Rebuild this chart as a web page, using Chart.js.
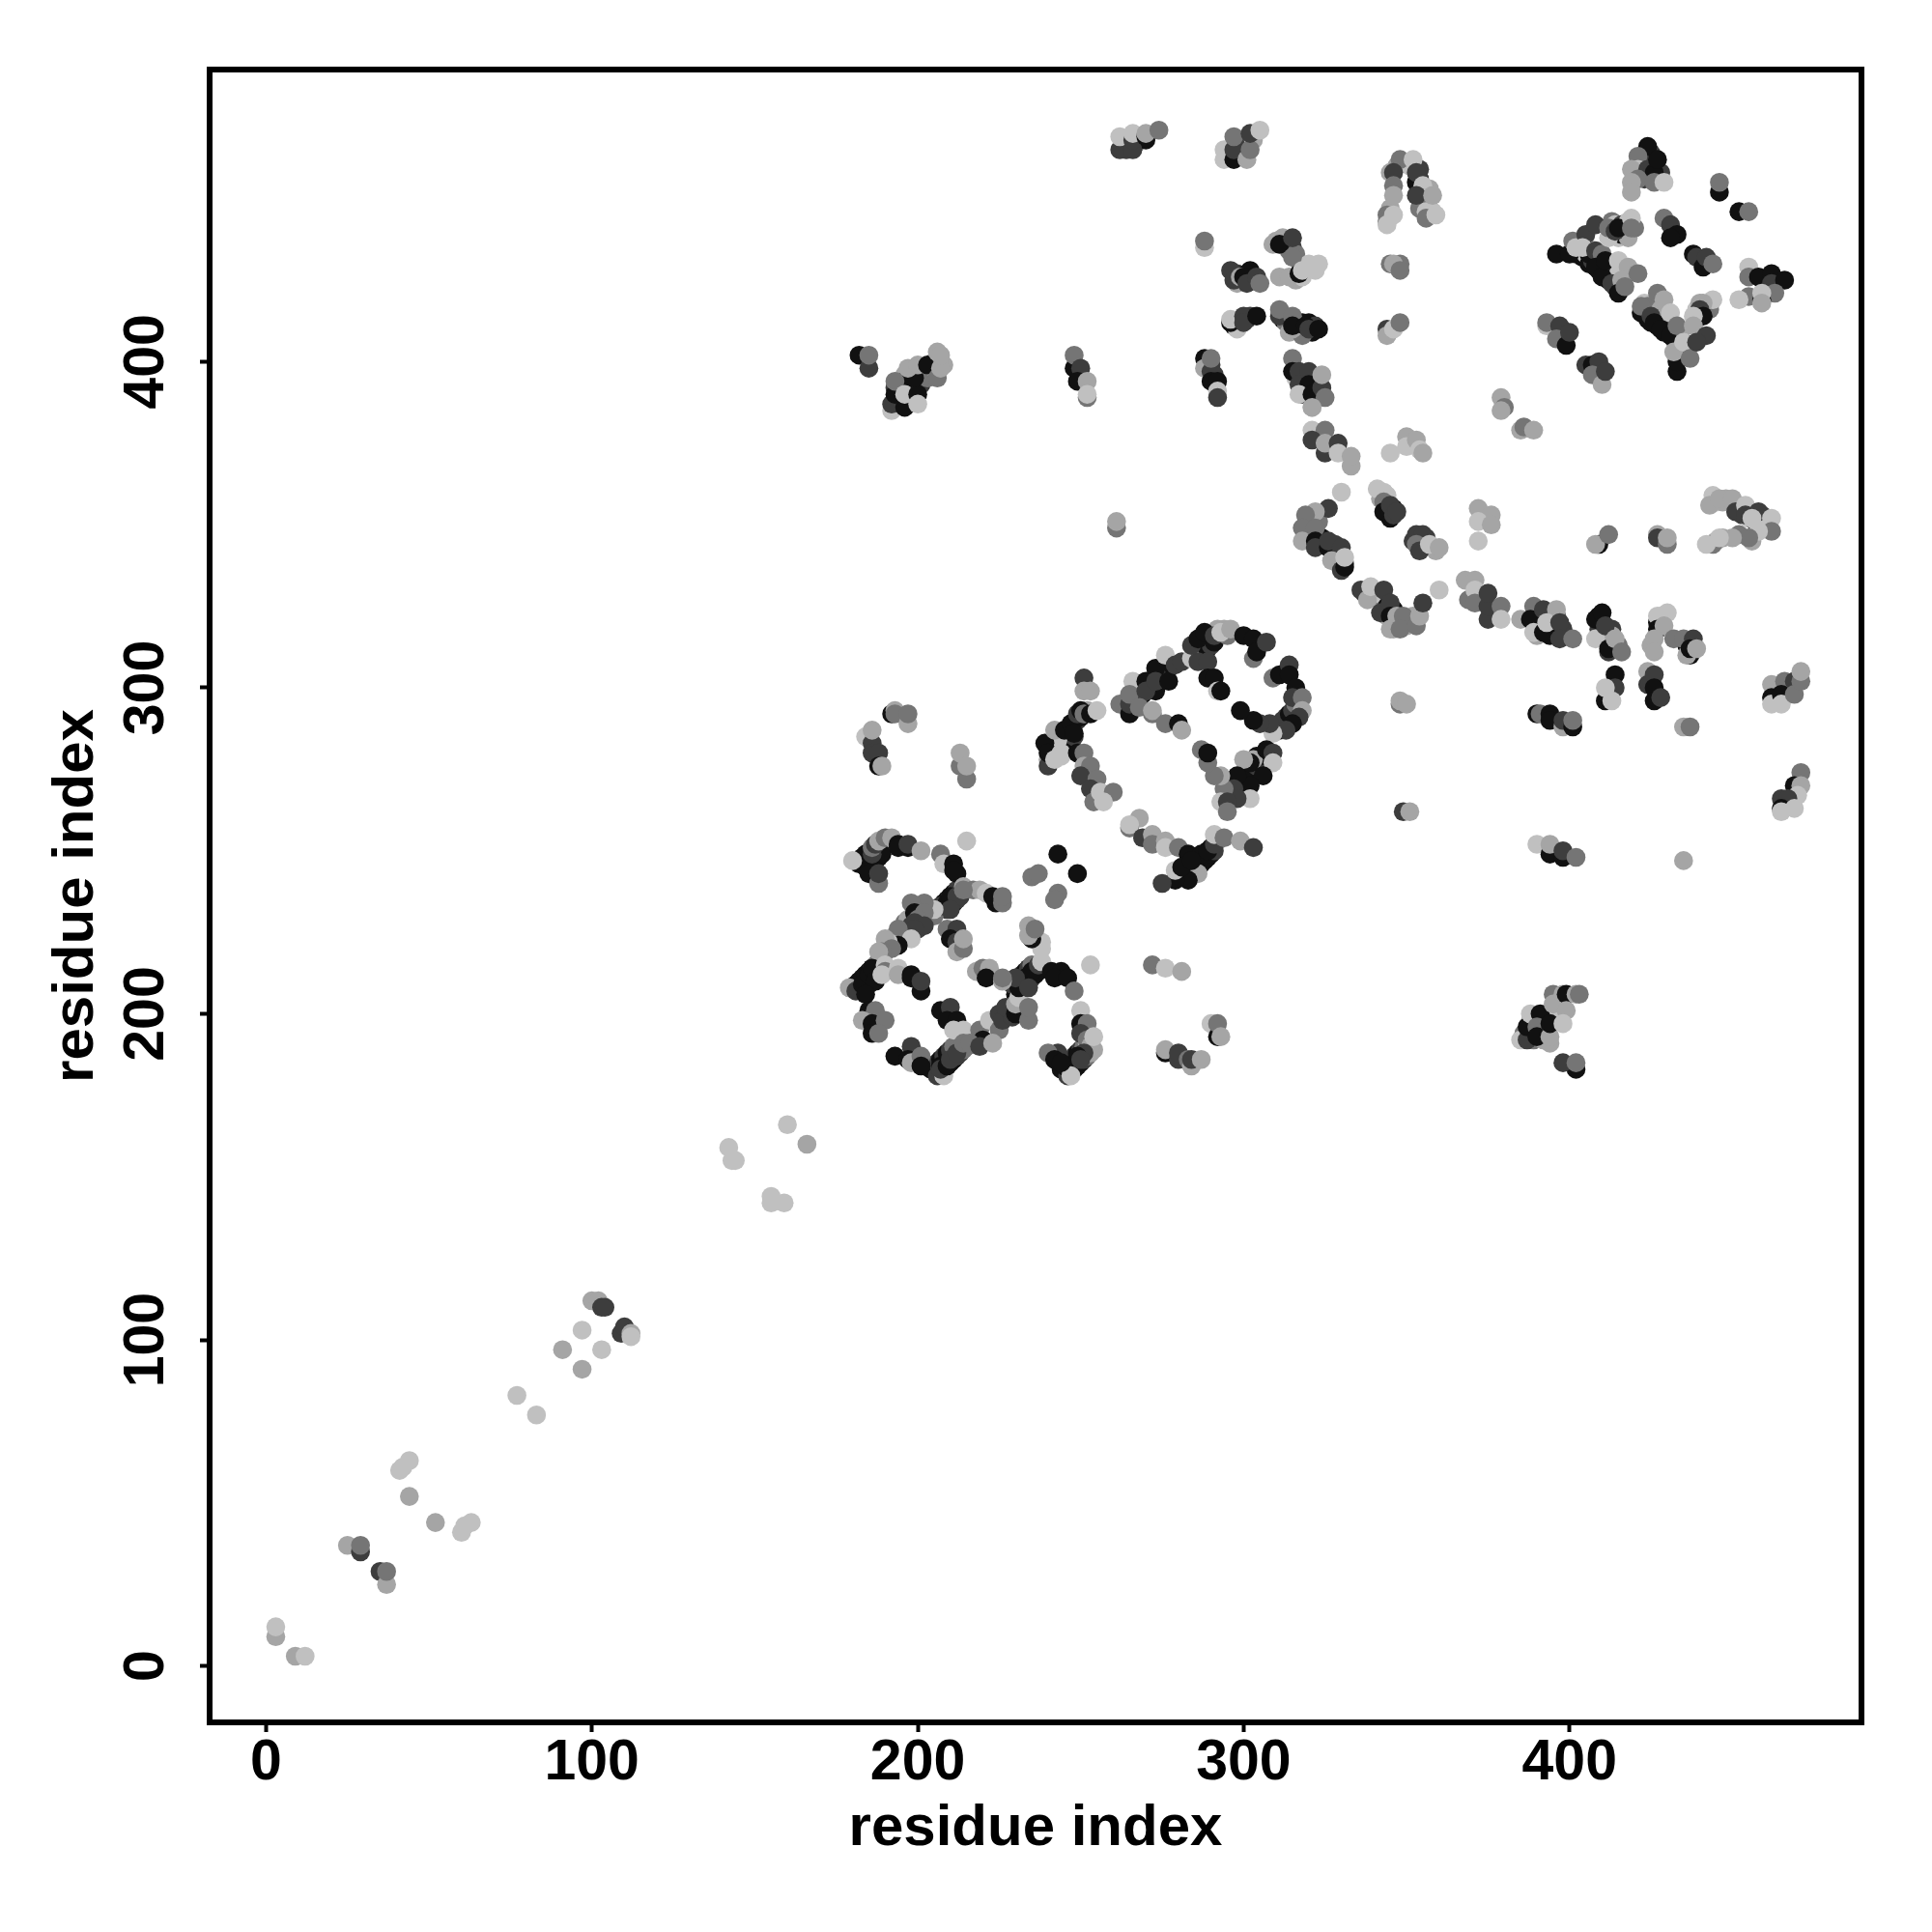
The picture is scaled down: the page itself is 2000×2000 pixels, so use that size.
<!DOCTYPE html>
<html>
<head>
<meta charset="utf-8">
<style>
    body { margin: 0; background: #ffffff; }
    #contact-map { display: block; }
</style>
<script src="https://cdn.jsdelivr.net/npm/chart.js@4"></script>
</head>
<body>
<div style="width:2000px;height:2000px"><canvas id="contact-map"></canvas></div>
<script>
// each contact is [residue i, residue j, strength bin 0 (strongest) .. 4 (weakest)]
const tickValues = [0, 100, 200, 300, 400];
const axisLabel = "residue index";

const diagonal = [
    [3,9,3],[3,12,4],[9,3,3],[12,3,4],[25,37,3],[29,35,1],[29,37,2],[35,29,1],[37,25,3],[37,29,2],
    [41,60,4],[42,61,4],[44,63,4],[44,52,3],[52,44,3],[60,41,4],[61,43,4],[63,44,4],[77,83,4],[83,77,4],
    [97,103,4],[91,97,3],[97,91,3],[103,97,4],[100,112,3],[102,112,3],[103,110,1],[104,110,1],
    [109,102,1],[110,104,1],[112,102,3],[112,101,4],
    [142,159,4],[143,155,4],[144,155,4],[160,166,4],[166,160,3],[155,144,4],[155,142,4],[159,142,4],
];

// packed strands, drawn first so the single contacts sit on top
const strandsA = [
    [180,208,1],[181,209,0],[182,210,0],[183,211,0],[184,212,0],[185,213,0],[186,214,1],[187,215,3],[188,216,2],
    [183,207,0],[184,208,0],[185,209,0],[186,210,1],[187,211,0],[188,212,0],
    [183,246,0],[184,247,0],[185,248,1],[186,249,0],[187,250,1],[188,251,0],[189,252,1],[190,253,3],
    [185,245,0],[186,246,0],[187,247,1],[188,248,0],[189,249,0],
    [207,233,1],[208,234,0],[209,235,0],[210,236,1],[211,237,0],[212,238,1],[209,232,1],[210,233,0],[211,234,0],[212,235,1],[213,236,1],
    [204,183,0],[205,184,0],[206,185,1],[207,186,0],[208,187,1],[209,188,0],[210,189,1],[211,190,2],
    [206,181,1],[207,182,1],[208,183,0],[209,184,0],[210,185,0],[211,186,0],[212,187,1],[213,188,1],[214,189,2],[215,190,2],
    [230,206,0],[231,207,0],[232,208,1],[233,209,0],[234,210,0],[235,211,1],[236,212,0],[237,213,0],
    [229,209,1],[230,210,0],[231,211,0],[232,212,1],[233,213,0],[234,214,1],[235,215,2],
    [244,183,0],[245,184,0],[246,185,1],[247,186,0],[248,187,1],[249,188,0],[250,189,1],[251,190,2],[252,191,3],[253,192,3],
    [246,181,1],[247,182,1],[248,183,0],[249,184,0],[250,185,0],[251,186,1],[252,187,2],[253,188,3],[254,189,3],
    [190,219,1],[191,220,2],[193,224,3],[195,224,1],[196,228,2],[197,229,3],[200,226,1],[201,228,2],[203,230,3],
    [196,225,1],[198,227,1],[201,230,0],[204,231,3],[205,230,2],
];

const strandsB = [
    [244,285,0],[245,286,0],[246,287,1],[247,288,0],[248,289,0],[249,290,1],[250,291,0],[251,292,1],[252,293,3],
    [246,284,0],[247,285,0],[248,285,1],[240,282,0],[241,281,4],[242,283,0],[243,281,0],[244,279,4],[242,279,1],[243,284,4],[240,278,3],
    [281,242,0],[282,243,0],[283,244,4],[284,245,0],[285,246,0],[286,247,0],[287,248,1],[288,249,0],[289,250,1],[290,251,0],[291,252,1],[292,253,4],
    [284,243,1],[285,244,4],[286,245,0],[287,246,0],[288,247,0],[289,248,0],[290,249,0],[291,250,1],
    [285,311,1],[286,312,0],[287,313,1],[288,314,0],[289,315,1],[290,316,4],[291,317,1],[292,318,3],
    [287,310,0],[288,311,1],[289,312,0],[290,313,1],[291,314,0],[294,318,3],[295,316,2],
    [268,297,0],[269,298,0],[270,299,1],[271,300,0],[272,301,0],[274,303,1],[275,304,0],[276,305,0],[277,306,1],[278,307,0],
    [311,287,0],[312,288,0],[313,289,1],[314,290,0],[315,291,1],[316,292,3],[317,293,2],
    [310,288,1],[311,289,0],[312,290,1],[313,291,1],[314,292,0],[315,293,1],[316,295,2],
    [298,270,1],[299,271,0],[300,272,0],[301,273,1],[302,274,0],[303,275,0],[304,276,1],[305,277,0],[306,278,1],[307,279,0],[304,279,0],[303,278,3],
];

const strandsC = [
    [320,347,3],[319,350,2],[321,351,2],[323,351,2],[324,346,0],[325,344,0],[328,344,1],[330,338,3],[329,340,4],[330,339,2],[331,338,1],
    [342,358,3],[343,360,4],[344,355,1],[345,352,0],[346,355,0],
    [352,345,1],[354,345,1],[356,346,1],[355,343,2],[358,343,3],[359,342,3],
    [337,329,1],[340,328,3],[339,328,2],[341,329,4],[344,325,0],[346,324,0],[344,322,3],[346,318,3],[347,319,2],[350,319,3],[351,320,2],[352,322,3],
    [389,322,0],[390,320,0],[391,319,4],[391,322,1],[393,322,0],[394,319,0],[395,318,4],[396,322,1],[396,318,1],[398,318,1],[390,316,3],[394,316,0],
    [409,322,0],[410,320,0],[409,318,1],[411,317,0],[412,315,0],[413,318,1],[414,313,0],[413,316,3],[412,311,1],[415,313,2],
    [427,320,0],[425,313,3],[427,322,4],[437,310,0],[436,313,0],[438,313,1],
    [445,357,4],[447,357,3],[448,358,3],[452,356,3],[453,353,1],[455,352,4],[457,351,1],[459,353,1],[452,347,2],[456,345,3],[460,349,4],[447,346,3],[445,345,3],
    [388,194,0],[389,195,1],[391,197,0],[392,198,4],[392,194,0],[393,199,0],[395,199,0],[396,201,0],[393,196,3],[397,203,0],[396,205,1],[398,202,3],[395,201,4],
    [388,198,3],[386,194,2],[389,192,2],[392,192,3],[394,191,3],
];

const strandsE = [
    [264,465,1],[263,466,1],[265,467,2],[268,469,3],[267,467,2],[270,468,0],
    [296,464,0],[299,468,3],[300,467,1],[303,468,3],
    [347,460,3],[345,458,3],[354,459,1],[354,456,1],[357,453,3],[355,449,3],[357,447,3],[354,447,2],[356,446,4],[358,446,4],[345,447,3],[344,445,2],[351,460,4],[353,455,0],
    [309,436,3],[313,437,3],[314,434,2],[315,435,1],[316,433,2],[316,425,3],[319,429,4],[320,430,4],[318,426,4],
    [298,427,1],[298,424,3],[302,428,0],[301,427,0],[303,425,1],
    [297,411,0],[299,412,3],[301,413,1],[302,414,1],[298,410,4],
    [312,413,0],[313,412,2],[314,412,2],[316,412,1],[317,410,1],[318,412,0],[320,412,0],[321,409,0],[322,411,1],[314,409,3],[318,408,2],
    [316,395,4],[318,394,0],[319,396,1],[322,395,1],[321,392,4],[323,394,1],[323,391,0],[318,390,1],
    [289,399,1],[291,396,1],[290,399,1],
];

const strandsF = [
    [401,435,4],[402,433,0],[403,434,1],[404,432,0],[405,433,4],[406,430,0],[407,431,1],[408,431,0],[409,430,2],[409,428,0],[410,429,1],
    [411,428,0],[412,427,2],[412,425,0],[413,428,1],[414,426,0],[414,423,1],[416,423,3],[415,427,4],[416,428,4],[403,436,2],[405,436,4],
    [423,415,0],[424,413,0],[425,415,1],[425,412,0],[426,414,0],[427,411,0],[428,413,1],[429,409,0],[429,411,0],[430,412,3],[431,410,1],
    [432,407,1],[433,406,0],[434,408,3],[435,404,4],[436,403,3],[433,404,1],[434,403,1],[432,409,4],[423,418,4],[424,417,2],[428,416,3],
    [413,443,2],[414,442,4],[416,442,1],[417,440,1],[418,443,4],[415,438,4],[416,439,0],[418,438,3],[420,441,2],
    [439,416,4],[440,418,3],[442,416,3],[443,418,4],[443,416,2],[439,413,3],
    [422,461,1],[423,463,4],[425,464,1],[428,458,1],[423,456,1],
    [194,388,0],[195,392,0],[197,392,0],[198,389,0],[198,396,3],[199,392,0],[201,393,1],[202,396,3],[204,397,1],[203,395,2],
    [205,400,3],[205,398,3],[208,399,3],[194,392,4],[196,396,3],[193,392,1],
];

const clusterA = [
    [182,246,0],[183,248,0],[184,245,0],[185,243,0],[184,249,0],[180,247,4],[186,249,1],[186,251,2],[187,252,1],
    [188,253,3],[190,254,2],[192,254,3],[194,252,0],[197,251,0],[194,251,0],[197,252,1],[201,250,3],[188,240,2],[188,243,1],
    [215,253,4],[207,249,2],[208,246,4],[211,246,0],[212,243,0],[211,244,0],[214,239,3],[217,238,2],[219,238,3],[221,237,4],
    [224,234,0],[223,236,0],[226,234,2],[226,236,2],
    [207,233,1],[209,234,0],[210,236,0],[212,236,1],[214,238,2],[210,232,1],
    [205,232,4],[202,234,2],[198,234,2],[199,231,0],[202,231,2],[200,229,2],[199,228,1],[202,227,1],[199,226,1],[194,226,2],
    [198,223,4],[194,221,0],[191,222,4],[190,223,3],[192,220,2],[189,219,2],[188,219,3],
    [209,226,2],[212,226,1],[210,223,0],[212,222,1],[212,219,3],[214,220,2],[214,223,3],
    [179,208,3],[181,207,1],[183,209,0],[185,212,0],[186,214,0],[187,210,0],[184,206,0],[190,215,4],[190,213,2],[189,212,4],
    [194,214,4],[194,212,3],[198,212,0],[198,211,0],[201,207,0],[201,210,1],
    [185,201,0],[187,201,2],[183,198,3],[186,197,0],[190,198,2],[186,194,0],[188,194,2],
    [207,201,0],[210,202,1],[209,198,0],[212,198,0],[211,195,4],[214,195,4],[219,195,2],[220,192,0],[222,198,4],[225,195,2],
    [225,200,1],[226,198,1],[229,199,1],[227,202,1],[230,200,0],[230,203,3],[231,205,4],[234,198,2],[234,202,2],
    [231,208,0],[233,211,0],[235,213,0],[230,211,1],[234,208,1],[237,215,1],[238,216,4],[238,220,4],[238,222,4],
    [235,223,0],[234,224,3],[234,227,3],[236,226,2],
    [241,213,0],[244,213,0],[242,211,0],[246,211,0],[248,207,2],[253,215,4],
    [243,249,0],[249,243,0],[235,242,2],[237,243,2],[243,237,2],[242,235,2],
    [250,201,4],[250,197,0],[252,197,2],[250,194,1],[252,192,2],[253,190,3],[254,193,4],[251,188,1],[249,187,0],[247,184,0],[245,184,0],
    [247,181,4],[250,186,1],[243,188,1],[240,188,2],[242,186,0],[244,185,0],
    [218,213,3],[220,214,2],[222,214,3],[221,211,0],[226,210,3],[226,211,2],
    [193,187,4],[193,187,0],[198,190,1],[197,186,0],[198,185,3],[201,187,2],[201,184,0],
    [207,184,0],[208,181,4],[207,183,1],[209,184,0],[210,186,1],[212,188,1],[214,191,2],[216,191,2],[219,190,1],[223,191,3],
];

const clusterB = [
    [240,276,1],[239,283,0],[240,280,0],[242,287,3],[242,278,4],[244,280,4],[245,287,0],[247,289,0],[248,286,0],[249,292,1],
    [250,293,0],[251,292,2],[253,292,0],[255,293,4],[249,280,0],[251,280,2],[251,276,3],[253,276,2],[250,273,1],[255,272,2],
    [253,269,1],[254,265,2],[256,268,4],[260,268,2],[257,265,4],[251,303,1],[251,299,3],[253,299,3],
    [262,295,2],[265,292,0],[265,295,1],[266,302,4],[265,298,2],[270,302,0],[273,306,0],[273,299,0],[270,299,1],[273,302,1],[277,302,0],
    [268,294,2],[272,292,2],[272,293,3],[276,289,2],[280,289,0],[281,287,3],
    [276,310,4],[279,307,1],[281,308,1],[284,309,4],[286,308,1],[289,308,1],[284,313,1],[286,315,0],[288,317,0],[291,316,1],
    [293,317,4],[296,318,3],[300,316,0],[303,315,0],[303,309,2],[304,311,0],[307,314,1],[289,303,0],[291,303,0],[292,299,4],[293,299,0],
    [309,303,2],[311,304,0],[314,307,1],[314,304,0],[316,300,0],[315,297,1],[318,297,2],[318,293,3],[317,291,1],[315,289,0],
    [313,287,1],[309,286,4],[308,289,1],[305,289,1],[303,290,0],[299,293,0],
    [307,281,0],[309,280,1],[309,277,4],[302,277,0],[300,278,3],[306,273,0],[302,270,0],[298,273,0],[297,269,1],[302,266,4],
    [298,266,1],[294,269,2],[293,265,4],[295,265,1],[295,262,2],[293,273,3],[291,273,2],[289,277,2],[287,281,2],[289,280,0],
    [268,260,3],[265,257,2],[265,258,4],[269,254,1],[272,255,3],[272,252,2],[276,253,3],[276,251,4],[280,251,2],
    [283,249,0],[287,249,0],[289,250,0],[291,252,1],[291,255,4],[294,254,2],[299,253,3],[303,251,1],
    [286,243,3],[283,241,0],[279,241,0],[275,240,1],[279,244,4],[281,245,0],[284,247,0],
    [272,215,2],[276,214,4],[281,213,3],
    [276,188,0],[276,189,3],[280,186,1],[280,188,1],[283,186,2],[284,184,3],[284,186,1],[287,186,3],
    [290,197,4],[292,193,0],[292,197,2],[293,193,3],
];

const clusterC = [
    [321,386,4],[321,379,4],[325,379,2],[321,376,1],[325,372,1],[325,375,3],[329,375,1],[329,372,4],[333,368,3],[333,371,3],
    [345,372,4],[350,377,3],[350,374,4],[353,376,3],[354,373,4],[355,372,3],
    [379,389,3],[380,386,2],[379,385,3],[385,379,3],[386,380,2],[389,379,3],
    [330,360,4],[326,355,1],[322,354,3],[319,353,2],[318,349,2],[322,349,2],[318,345,3],
    [322,345,0],[322,343,1],[326,343,0],[326,345,1],[330,343,1],[327,339,3],[330,336,1],[331,337,0],[331,340,4],
    [341,361,4],[344,359,4],[343,357,2],[343,354,0],[345,356,1],[346,353,1],[347,354,1],
    [353,347,1],[355,347,1],[353,344,2],[354,342,1],[357,344,4],[360,343,3],
    [372,355,3],[376,353,3],[372,351,4],[376,350,3],[372,345,4],
    [336,330,1],[338,327,3],[339,331,4],[343,330,1],[342,323,1],[345,326,1],[345,322,0],[347,322,3],[345,318,3],
    [349,322,2],[348,318,2],[353,319,2],[354,322,3],[355,326,1],[360,330,4],
    [368,333,3],[371,333,3],[369,327,2],[371,330,4],[371,326,2],[375,321,1],[375,325,1],[375,329,1],[379,325,2],[379,321,4],
    [348,295,2],[348,296,3],[350,295,3],[349,262,1],[351,262,3],
];

const clusterD = [
    [385,321,3],[389,325,2],[388,321,0],[389,317,4],[392,324,1],[396,324,3],[392,317,0],[393,320,4],[397,320,1],[397,315,1],[401,315,2],
    [408,321,0],[408,315,4],[410,323,0],[411,319,1],[412,312,0],[414,315,3],[416,311,2],
    [430,323,4],[428,322,4],[427,318,0],[429,319,3],[426,315,3],[426,311,3],[432,315,2],[435,315,2],[436,310,3],[438,315,1],[437,312,0],[439,312,3],
    [414,304,0],[414,300,1],[411,296,0],[411,300,4],[413,296,4],
    [424,305,3],[424,301,1],[426,304,1],[426,300,0],[426,296,0],[428,297,1],
    [390,292,0],[391,292,2],[394,292,0],[394,290,0],[398,288,3],[398,290,1],[401,288,0],[401,290,2],
    [435,288,3],[437,288,2],
    [462,301,3],[462,297,0],[462,295,4],[466,302,2],[465,298,0],[465,295,4],[469,302,1],[469,298,2],[471,302,2],[471,305,3],
    [471,274,2],[469,270,0],[471,270,3],[470,267,4],[465,266,1],[467,266,1],[465,263,0],[465,262,4],[469,263,4],
    [390,252,4],[394,249,0],[394,252,3],[398,248,0],[398,250,1],[402,248,2],[435,247,3],
    [385,192,4],[387,192,1],[387,196,0],[388,200,4],[391,200,0],[390,196,2],[390,193,0],[394,193,3],[394,197,0],
    [395,206,2],[395,203,3],[398,206,3],[399,206,0],[399,201,3],[398,197,4],[402,206,3],[403,206,2],
    [402,183,0],[398,185,1],[402,185,2],
    [409,344,0],[408,344,3],[412,347,2],[427,347,3],[427,346,1],[430,344,2],[430,346,3],
    [444,359,4],[443,356,3],[446,358,3],[450,358,3],[451,354,1],[454,356,4],[454,353,1],[458,354,1],[456,352,4],[462,352,4],
    [462,348,2],[458,348,4],[455,346,2],[450,346,3],[444,344,2],[442,344,4],[446,346,4],
];

const clusterE = [
    [262,465,1],[266,465,1],[262,469,4],[266,468,1],[266,470,4],[270,469,0],[270,470,3],[274,471,2],
    [294,465,4],[294,462,4],[297,462,0],[297,465,1],[297,469,2],[301,462,3],[302,465,2],[302,470,1],[305,471,4],
    [348,462,2],[352,462,4],[346,458,1],[346,454,2],[346,451,3],[353,458,1],[355,454,4],[353,451,1],[358,451,3],
    [344,443,2],[344,442,4],[346,445,4],[356,444,2],[359,445,4],
    [288,435,4],[288,437,2],
    [310,437,3],[312,438,3],[311,436,0],[315,438,1],[315,432,2],[296,428,1],[297,425,1],[299,426,3],[300,426,0],[301,424,1],
    [304,426,1],[305,424,2],[311,426,3],[314,426,3],[317,427,0],[318,428,4],[323,430,4],[322,428,4],
    [348,430,2],[345,430,2],[346,430,3],[348,428,2],
    [296,412,0],[296,413,4],[300,414,1],[300,412,1],[304,414,0],
    [311,414,1],[311,416,2],[315,414,2],[315,410,3],[315,411,0],[319,411,0],[320,410,1],[323,410,0],
    [344,410,1],[344,408,3],[346,410,4],[348,412,2],
    [288,401,0],[288,398,3],[290,397,1],[290,401,2],[290,394,0],[292,394,0],[292,391,4],[292,389,1],
    [315,401,2],[315,397,0],[317,397,1],[320,397,1],[317,393,1],[320,393,0],[317,390,4],[321,390,0],[324,392,1],[324,396,3],[325,389,2],[321,386,3],
];

const clusterF = [
    [424,466,0],[421,463,2],[421,459,4],[419,459,3],[424,459,1],[426,458,0],[427,462,0],[421,456,2],[419,455,3],[419,452,3],[426,455,2],[429,455,4],
    [446,452,0],[446,455,2],[452,446,0],[455,446,2],
    [455,429,4],[455,426,2],[458,426,0],[462,427,0],[462,424,1],[466,425,0],[463,421,2],[455,420,2],[459,419,0],[459,421,4],[452,419,4],[459,418,3],
    [429,444,2],[431,442,1],[433,439,0],[431,438,0],
    [438,433,0],[439,432,1],[441,429,0],[442,432,1],[444,430,2],
    [396,433,0],[400,433,0],[401,437,2],[402,435,4],[405,439,1],[408,442,1],[406,433,0],[404,435,4],[408,434,1],[410,433,2],
    [408,429,0],[410,426,0],[411,431,0],[413,424,1],[412,438,4],[412,441,2],[414,440,1],[415,441,0],[419,444,4],[419,441,2],
    [415,431,4],[418,429,3],[416,425,3],[415,421,0],[417,423,2],[421,427,2],
    [422,415,0],[422,417,2],[425,414,1],[426,412,0],[428,410,0],[427,421,2],[429,419,3],[431,415,4],[431,408,0],[433,411,2],
    [433,397,0],[433,400,0],[432,403,3],[435,406,4],[437,401,2],
    [444,419,4],[441,418,3],[440,416,1],[441,414,0],[438,414,4],[438,411,3],[442,408,1],[439,406,1],
    [393,411,4],[393,412,2],[397,411,1],[396,407,2],[399,405,0],[400,409,1],
    [405,399,1],[407,399,0],[409,400,1],[407,396,2],[410,393,3],[411,397,1],
];

const clusterG = [
    [182,402,0],[185,398,1],[185,402,2],
    [192,385,4],[192,387,1],[193,390,0],[196,386,0],[196,394,0],[193,394,2],[196,390,4],[200,390,0],[200,387,4],[199,395,0],
    [197,398,3],[200,399,3],[203,399,0],[206,395,2],[207,398,3],[206,403,3],[207,402,3],
    [248,398,0],[248,402,2],[250,398,1],[249,394,0],[252,394,3],[252,389,2],[252,390,4],
    [261,349,2],[261,351,3],
    [192,292,0],[193,293,3],[193,292,2],[197,289,3],[197,292,2],
    [184,285,4],[186,283,1],[186,287,3],[186,280,1],[188,280,1],[188,276,0],[189,276,3],
    [213,276,2],[213,280,3],[215,272,2],[215,276,3],
];

const contacts = [
    ...strandsA, ...strandsB, ...strandsC, ...strandsE, ...strandsF,
    ...diagonal, ...clusterA, ...clusterB, ...clusterC, ...clusterD, ...clusterE, ...clusterF, ...clusterG,
];
const binColors = ["#111111", "#3d3d3d", "#757575", "#a5a5a5", "#c0c0c0"];

const blackFrame = {
    id: "blackFrame",
    afterDatasetsDraw(chart) {
        const { ctx, chartArea } = chart;
        ctx.save();
        ctx.strokeStyle = "#000000";
        ctx.lineWidth = 6;
        ctx.strokeRect(chartArea.left, chartArea.top, chartArea.width, chartArea.height);
        ctx.restore();
    },
};

function axisOptions(isX) {
    return {
        type: "linear",
        min: -17.3,
        max: 489.6,
        afterBuildTicks(axis) {
            axis.ticks = tickValues.map((value) => ({ value: value }));
        },
        afterFit(axis) {
            if (isX) axis.height = 217;
            else axis.width = 217;
        },
        grid: {
            drawOnChartArea: false,
            drawTicks: true,
            tickLength: 10,
            tickWidth: 4,
            tickColor: "#000000",
        },
        border: { display: false },
        ticks: {
            color: "#000000",
            padding: isX ? -3 : 5,
            font: { family: "Liberation Sans", weight: "bold", size: 59 },
            minRotation: isX ? 0 : 90,
            maxRotation: isX ? 0 : 90,
            crossAlign: isX ? "near" : "center",
            autoSkip: false,
        },
        title: {
            display: true,
            text: axisLabel,
            color: "#000000",
            font: { family: "Liberation Sans", weight: "bold", size: 60 },
            padding: isX ? { top: 0, bottom: 71 } : { top: 43, bottom: 0 },
        },
    };
}

new Chart(document.getElementById("contact-map"), {
    type: "scatter",
    data: {
        datasets: [
            {
                label: "contacts",
                data: contacts.map((c) => ({ x: c[0], y: c[1] })),
                pointRadius: 9.8,
                pointBorderWidth: 0,
                pointBackgroundColor: contacts.map((c) => binColors[c[2]]),
            },
        ],
    },
    options: {
        responsive: true,
        maintainAspectRatio: false,
        animation: false,
        layout: { padding: { top: 72, right: 73, left: 0, bottom: 0 } },
        scales: { x: axisOptions(true), y: axisOptions(false) },
        plugins: { legend: { display: false }, tooltip: { enabled: false } },
    },
    plugins: [blackFrame],
});
</script>
</body>
</html>
